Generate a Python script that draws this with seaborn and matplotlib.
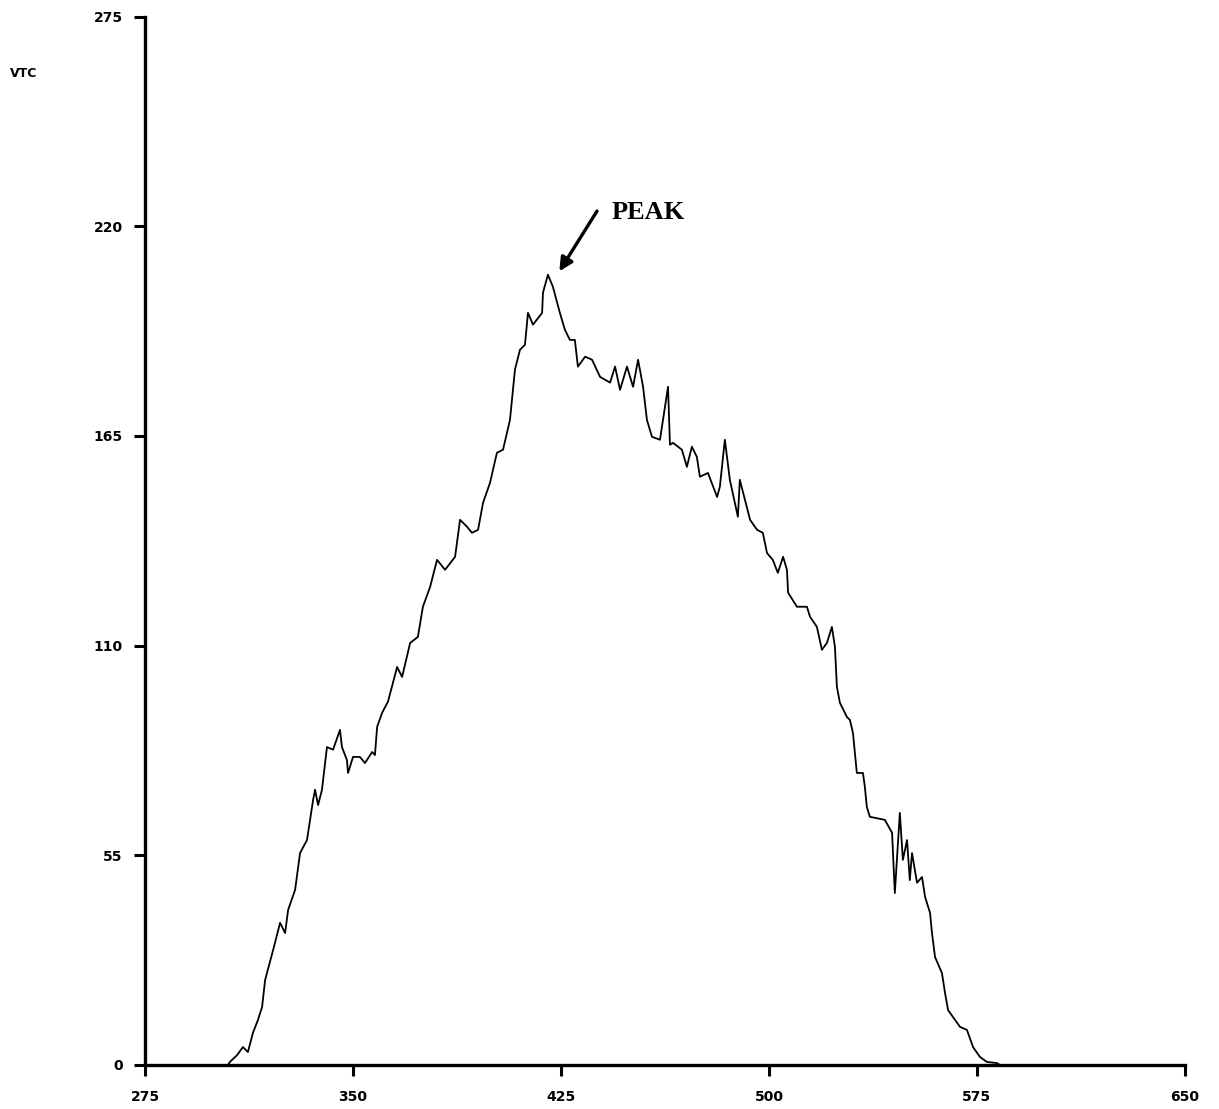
import matplotlib
matplotlib.use("Agg")
import matplotlib.pyplot as plt
import seaborn as sns
import pandas as pd

# trace
wavelength = [
    304.9, 305.6, 308.2, 310.3, 312.1, 313.9, 315.7, 317.2, 318.3, 321.2,
    323.7, 325.5, 326.6, 329.1, 330.9, 333.4, 335.6, 336.3, 337.4, 338.8,
    340.6, 342.8, 345.3, 346.0, 347.8, 348.2, 350.0, 352.5, 354.3, 356.9,
    357.9, 358.7, 360.5, 362.6, 365.9, 367.7, 370.6, 373.4, 375.2, 377.8,
    380.3, 383.2, 386.8, 388.6, 391.1, 392.9, 395.1, 396.9, 399.4, 401.9,
    404.1, 406.6, 408.4, 410.2, 412.0, 413.1, 414.9, 418.2, 418.5, 420.3,
    422.1, 424.6, 426.4, 428.2, 430.0, 431.1, 433.7, 436.2, 439.1, 442.7,
    444.5, 446.3, 448.8, 451.0, 452.8, 454.6, 456.0, 457.8, 460.7, 463.6,
    464.3, 465.4, 468.6, 470.4, 472.2, 474.0, 475.1, 478.0, 481.3, 482.3,
    484.1, 485.9, 488.8, 489.5, 493.2, 495.7, 497.8, 499.3, 501.4, 503.2,
    505.1, 506.5, 506.9, 510.1, 513.7, 514.8, 517.3, 519.1, 520.9, 522.7,
    523.8, 524.5, 525.6, 528.1, 529.2, 530.3, 531.7, 533.9, 534.6, 535.3,
    536.4, 541.8, 544.4, 545.4, 547.2, 548.3, 549.8, 550.8, 551.6, 553.4,
    555.2, 556.3, 558.1, 558.8, 559.9, 562.4, 563.5, 564.6, 568.9, 571.4,
    573.6, 576.1, 578.6, 582.2, 583.3,
]
vtc = [
    0.0, 0.8, 2.6, 4.7, 3.4, 8.4, 11.8, 15.2, 22.3, 30.2,
    37.3, 34.6, 40.7, 45.9, 55.6, 59.0, 69.5, 72.2, 68.2, 72.2,
    83.4, 82.7, 87.9, 83.4, 80.0, 76.6, 80.8, 80.8, 79.2, 82.1,
    81.3, 88.7, 92.4, 95.3, 104.4, 101.8, 110.7, 112.3, 120.2, 125.4,
    132.5, 129.9, 133.3, 143.0, 141.2, 139.6, 140.4, 147.5, 152.7, 160.6,
    161.4, 169.2, 182.4, 187.6, 188.9, 197.3, 194.2, 197.3, 202.6, 207.3,
    204.1, 197.3, 192.9, 190.2, 190.2, 183.2, 185.8, 185.0, 180.5, 179.0,
    183.2, 177.1, 183.2, 177.9, 185.0, 177.9, 169.2, 164.8, 164.0, 177.9,
    162.7, 163.2, 161.4, 156.9, 162.2, 159.5, 154.3, 155.3, 149.0, 151.7,
    164.0, 153.5, 143.8, 153.5, 143.0, 140.4, 139.6, 134.3, 132.5, 129.1,
    133.3, 129.9, 123.9, 120.2, 120.2, 117.6, 114.9, 108.9, 110.7, 114.9,
    109.7, 99.2, 95.0, 91.3, 90.5, 87.1, 76.6, 76.6, 72.9, 67.7,
    65.1, 64.3, 60.9, 45.1, 66.1, 53.8, 59.0, 48.5, 55.6, 47.8,
    49.3, 44.1, 39.9, 34.6, 28.3, 24.1, 18.9, 14.4, 10.0, 9.2,
    4.7, 2.1, 0.8, 0.5, 0.0,
]
x_ticks = [275, 350, 425, 500, 575, 650]
y_ticks = [0, 55, 110, 165, 220, 275]

df = pd.DataFrame({"wavelength": wavelength, "vtc": vtc})

sns.set_style("ticks")
plt.rcParams["font.family"] = ["DejaVu Sans"]
plt.rcParams["text.color"] = "black"
plt.rcParams["xtick.color"] = "black"
plt.rcParams["ytick.color"] = "black"

fig = plt.figure(figsize=(12.19, 11.09), dpi=100)
ax = fig.add_axes([0.119, 0.0397, 0.853, 0.9453])

sns.lineplot(data=df, x="wavelength", y="vtc", sort=False, estimator=None,
             color="black", linewidth=1.3, ax=ax)

ax.set_xlim(275, 650)
ax.set_ylim(0, 275)
ax.set_xticks(x_ticks)
ax.set_yticks(y_ticks)
ax.set_xticklabels([str(t) for t in x_ticks], fontsize=10, fontweight="bold")
ax.set_yticklabels([str(t) for t in y_ticks], fontsize=10, fontweight="bold")
ax.tick_params(axis="both", width=2.2, length=8, color="black")
ax.tick_params(axis="x", pad=10)
ax.tick_params(axis="y", pad=8)
ax.set_xlabel("")
ax.set_ylabel("")
sns.despine(ax=ax)
for side in ["left", "bottom"]:
    ax.spines[side].set_linewidth(2.4)
    ax.spines[side].set_color("black")

fig.text(0.008, 0.934, "VTC", fontsize=9, fontweight="bold", color="black",
         va="center", ha="left")

# peak label and arrow
ax.text(443.4, 223.6, "PEAK", fontsize=19, fontweight="bold",
        family="Liberation Serif", va="center", ha="left", color="black")
ax.annotate("", xy=(424.4, 208.2), xytext=(438.0, 224.0),
            arrowprops=dict(arrowstyle="-|>", color="black", lw=2.4,
                            mutation_scale=20, shrinkA=0, shrinkB=0))

fig.savefig("out.png", dpi=100, facecolor="white")
